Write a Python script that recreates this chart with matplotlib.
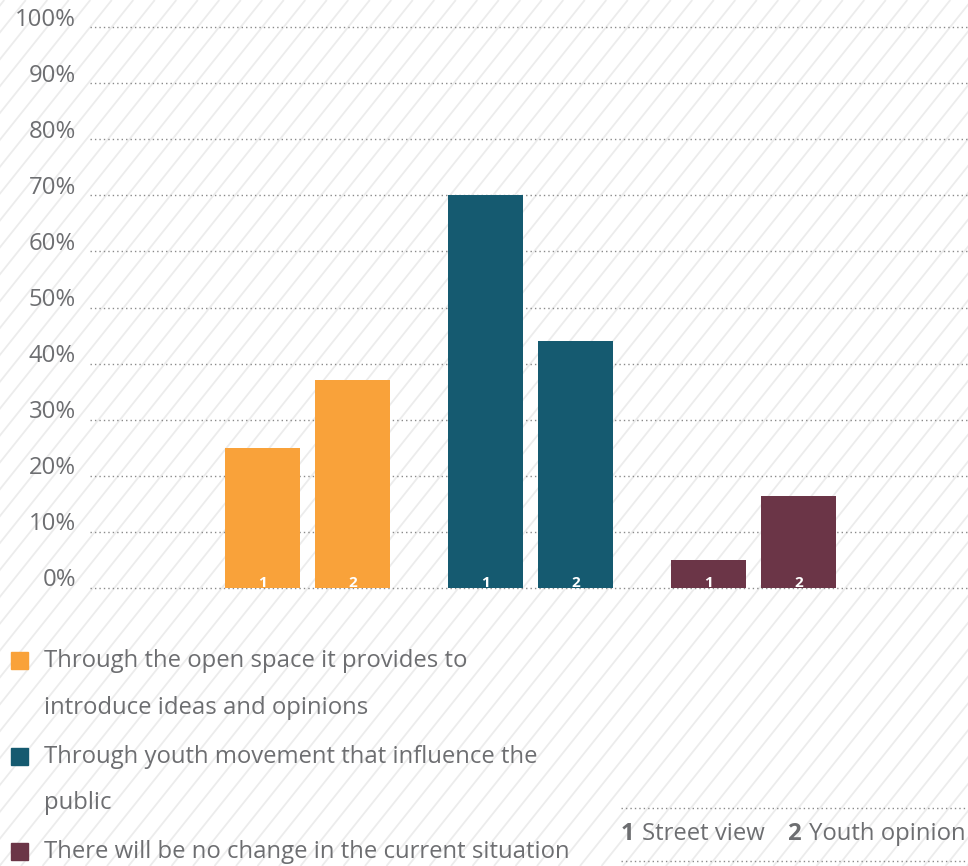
import matplotlib
matplotlib.use("Agg")
import matplotlib.pyplot as plt
from matplotlib.patches import Rectangle
import matplotlib.transforms as mtransforms
import numpy as np

categories = [
    "Through the open space it provides to\nintroduce ideas and opinions",
    "Through youth movement that influence the\npublic",
    "There will be no change in the current situation",
]
street_view = [25, 70, 5]
youth_opinion = [37, 44, 16.4]
colors = ["#F9A23A", "#155A70", "#6B3547"]
y_ticks = [0, 10, 20, 30, 40, 50, 60, 70, 80, 90, 100]
tick_labels = [f"{t}%" for t in y_ticks]
series_labels = ["Street view", "Youth opinion"]

W, H = 968, 866
plt.rcParams['font.family'] = ['Open Sans', 'DejaVu Sans']
TXT = "#6d6e71"
FS = 17.2

fig = plt.figure(figsize=(W / 100, H / 100), dpi=100)
fig.patch.set_facecolor("white")

# background hatch
bg = fig.add_axes([0, 0, 1, 1], zorder=-10)
bg.set_xlim(0, W)
bg.set_ylim(0, H)
bg.axis("off")
slope = 1.25
for x0 in np.arange(-W, W + 50, 21.5):
    bg.plot([x0, x0 + H / slope], [0, H], color="#ececec", lw=1.3, solid_capstyle="butt")

def fy(p):
    return (H - p) / H

ppu = (587.7 - 27.3) / 100.0
top_px = 27.3 - ppu * 1
bot_px = 587.7 + ppu * 1
ax = fig.add_axes([90 / W, fy(bot_px), (W - 90) / W, (bot_px - top_px) / H])
ax.patch.set_alpha(0)
ax.set_ylim(-1, 101)
x0c, spacing = 307.5, 223.0
ax.set_xlim((90 - x0c) / spacing, (W - x0c) / spacing)
for s in ax.spines.values():
    s.set_visible(False)
ax.set_xticks([])
ax.set_yticks([])
lab_tr = mtransforms.blended_transform_factory(fig.transFigure, ax.transData) + \
    mtransforms.ScaledTranslation(0, 1.5 / 100, fig.dpi_scale_trans)
for t, lab in zip(y_ticks, tick_labels):
    ax.text(76 / W, t, lab, transform=lab_tr, ha="right", va="baseline",
            color=TXT, fontsize=FS, clip_on=False)
    ax.axhline(t, color="#8a8a8a", lw=1.0, ls=(0, (1, 2.2)), zorder=1)

x = np.arange(len(categories))
bw = 75 / spacing
off = 45 / spacing
b1 = ax.bar(x - off, street_view, bw, color=colors, zorder=3)
b2 = ax.bar(x + off, youth_opinion, bw, color=colors, zorder=3)
for bars, lab in [(b1, "1"), (b2, "2")]:
    for b in bars:
        ax.annotate(lab, (b.get_x() + b.get_width() / 2, 0), xytext=(0, -1.5),
                    textcoords="offset points", ha="center", va="bottom",
                    color="white", fontsize=11, fontweight="bold", zorder=4)

# legend
leg_lines = [661, 708, 757, 803, 852]
entries = [(0, categories[0].split("\n")), (1, categories[1].split("\n")), (2, [categories[2]])]
li = 0
for ci, lines in entries:
    fig.patches.append(Rectangle((11 / W, fy(leg_lines[li] + 8)), 17 / W, 17 / H,
                                 transform=fig.transFigure, color=colors[ci]))
    for ln in lines:
        fig.text(44 / W, fy(leg_lines[li]), ln, color=TXT, fontsize=FS, va="center", ha="left")
        li += 1

# series key
for yp in [808, 861]:
    bg.plot([621, W], [H - yp, H - yp], color="#8a8a8a", lw=1.0, ls=(0, (1, 2.2)))
fig.text(621 / W, fy(834), "1", color=TXT, fontsize=FS, fontweight="bold", va="center")
fig.text(642 / W, fy(834), series_labels[0], color=TXT, fontsize=FS, va="center")
fig.text(787 / W, fy(834), "2", color=TXT, fontsize=FS, fontweight="bold", va="center")
fig.text(809 / W, fy(834), series_labels[1], color=TXT, fontsize=FS, va="center")

fig.savefig("out.png", dpi=100)
